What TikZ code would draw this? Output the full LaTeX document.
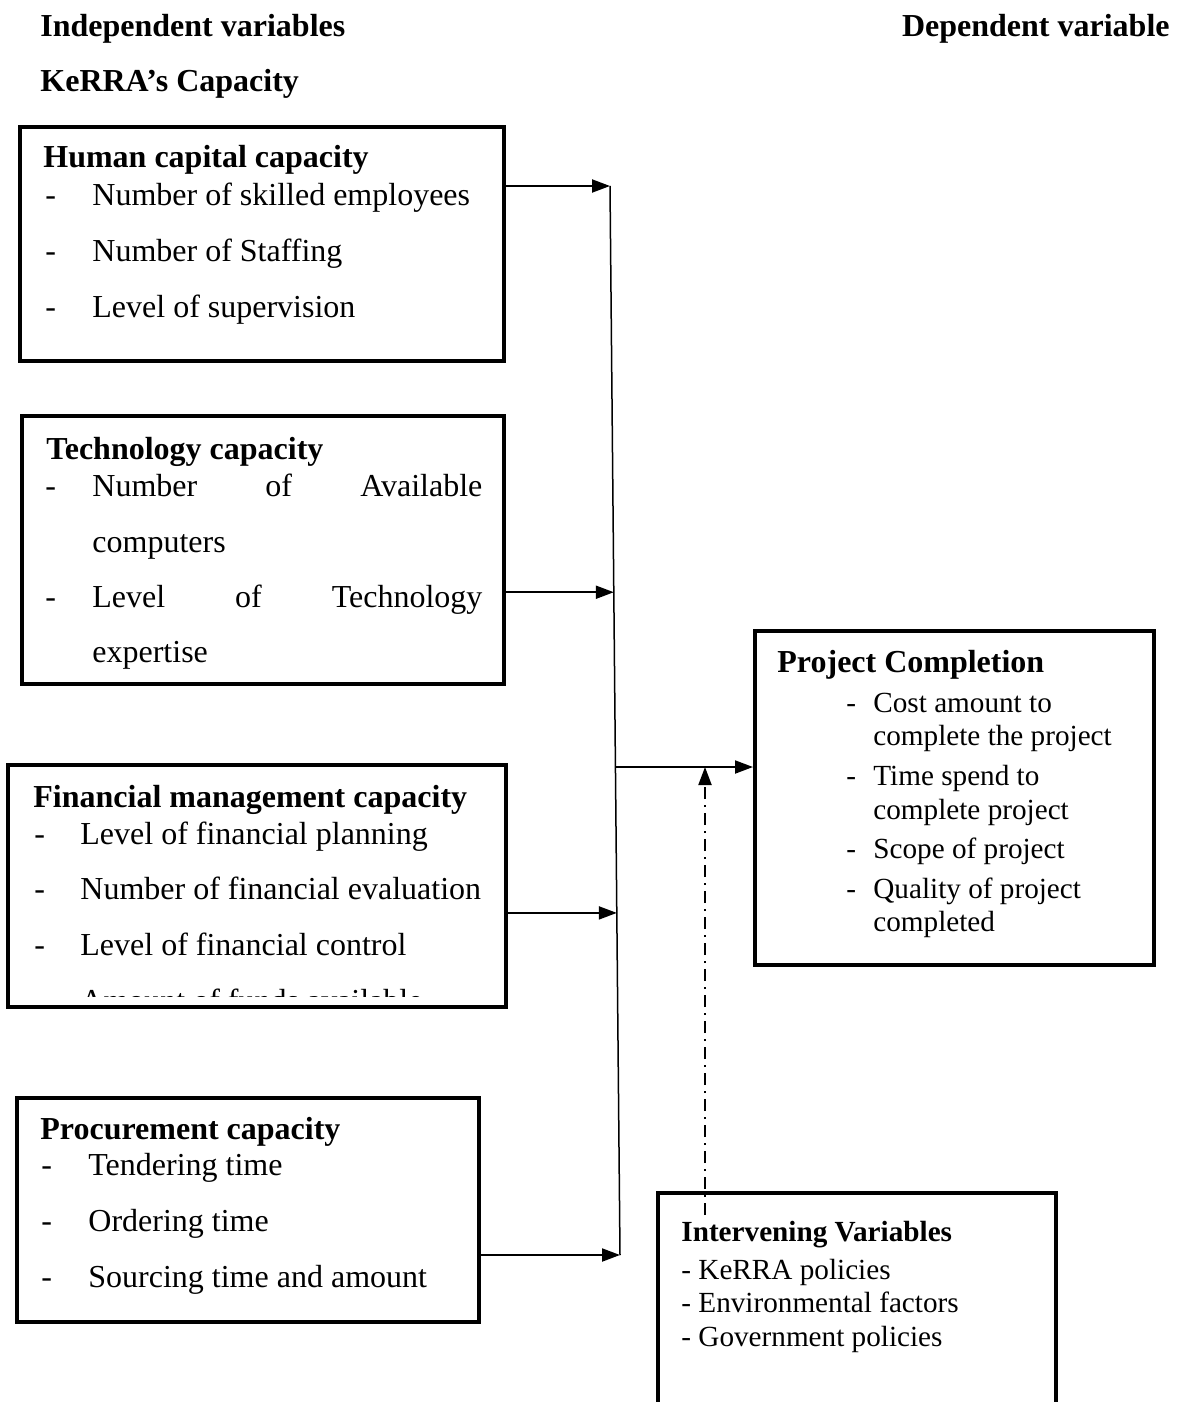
\documentclass[tikz,border=0pt]{standalone}
\usepackage{fontspec}
\setmainfont{Liberation Serif}
\usepackage{tikz}
\usetikzlibrary{calc}
\usetikzlibrary{arrows.meta}

\newcommand{\bigsize}{\fontsize{16}{19}\selectfont}
\newcommand{\smallsize}{\fontsize{14.6}{17}\selectfont}

\begin{document}
\begin{tikzpicture}[
        x = 0.5pt, y = -0.5pt,
        >={Triangle[length=9pt,width=6.5pt]},
        capbox/.style = {draw, line width=2pt, inner sep=0pt},
        txt/.style = {anchor=base west, inner sep=0pt, font=\bigsize},
        head/.style = {txt, font=\bigsize\bfseries},
        stxt/.style = {txt, font=\smallsize},
        shead/.style = {txt, font=\smallsize\bfseries},
        arr/.style = {->, line width=1pt},
        dashdot/.style = {->, line width=1pt, dash pattern=on 6pt off 3pt on 1pt off 3pt},
		]

        \useasboundingbox (0,0) rectangle (1177,1402);

        % Titles
        \node[head] (indep) at (40,37) {Independent variables};
        \node[head, anchor=base east] (dep) at (1170,37) {Dependent variable};
        \node[head] (kerra) at (40,92) {KeRRA’s Capacity};

        % Human capital capacity
        \node[capbox, minimum width=242pt, minimum height=117pt] (hum) at (262,244) {};
        \node[head] (humT) at (43,167) {Human capital capacity};
        \node[txt] (hum1d) at (45,205) {-};
        \node[txt] (hum1) at (92,205) {Number of skilled employees};
        \node[txt] (hum2d) at (45,261) {-};
        \node[txt] (hum2) at (92,261) {Number of Staffing};
        \node[txt] (hum3d) at (45,317) {-};
        \node[txt] (hum3) at (92,317) {Level of supervision};

        % Technology capacity
        \node[capbox, minimum width=241pt, minimum height=134pt] (tech) at (263,550) {};
        \node[head] (techT) at (46,459) {Technology capacity};
        \node[txt] (tech1d) at (45,496) {-};
        \node[txt] (tech1) at (92,496) {\makebox[195pt][s]{Number of Available}};
        \node[txt] (tech1b) at (92,552) {computers};
        \node[txt] (tech2d) at (45,607) {-};
        \node[txt] (tech2) at (92,607) {\makebox[195pt][s]{Level of Technology}};
        \node[txt] (tech2b) at (92,662) {expertise};

        % Financial management capacity
        \node[capbox, minimum width=249pt, minimum height=121pt] (fin) at (257,886) {};
        \node[head] (finT) at (33,807) {Financial management capacity};
        \node[txt] (fin1d) at (34,844) {-};
        \node[txt] (fin1) at (80,844) {Level of financial planning};
        \node[txt] (fin2d) at (34,899) {-};
        \node[txt] (fin2) at (80,899) {Number of financial evaluation};
        \node[txt] (fin3d) at (34,955) {-};
        \node[txt] (fin3) at (80,955) {Level of financial control};
        \begin{scope}
            \clip (10,985) rectangle (500,996);
            \node[txt] (fin4d) at (34,1011) {-};
            \node[txt] (fin4) at (80,1011) {Amount of funds available};
        \end{scope}

        % Procurement capacity
        \node[capbox, minimum width=231pt, minimum height=112pt] (proc) at (248,1210) {};
        \node[head] (procT) at (40,1139) {Procurement capacity};
        \node[txt] (proc1d) at (41,1175) {-};
        \node[txt] (proc1) at (88,1175) {Tendering time};
        \node[txt] (proc2d) at (41,1231) {-};
        \node[txt] (proc2) at (88,1231) {Ordering time};
        \node[txt] (proc3d) at (41,1287) {-};
        \node[txt] (proc3) at (88,1287) {Sourcing time and amount};

        % Project completion
        \node[capbox, minimum width=199.5pt, minimum height=167pt] (proj) at (954.5,798) {};
        \node[head] (projT) at (777,672) {Project Completion};
        \node[stxt] (proj1d) at (846,712) {-};
        \node[stxt] (proj1) at (873,712) {Cost amount to};
        \node[stxt] (proj1b) at (873,745) {complete the project};
        \node[stxt] (proj2d) at (846,785) {-};
        \node[stxt] (proj2) at (873,785) {Time spend to};
        \node[stxt] (proj2b) at (873,819) {complete project};
        \node[stxt] (proj3d) at (846,858) {-};
        \node[stxt] (proj3) at (873,858) {Scope of project};
        \node[stxt] (proj4d) at (846,898) {-};
        \node[stxt] (proj4) at (873,898) {Quality of project};
        \node[stxt] (proj4b) at (873,931) {completed};

        % Intervening variables (runs off the page)
        \node[capbox, minimum width=199pt, minimum height=133.5pt] (inter) at (857,1326.5) {};
        \node[shead] (interT) at (681,1241) {Intervening Variables};
        \node[stxt] (inter1) at (681,1279) {- KeRRA policies};
        \node[stxt] (inter2) at (681,1312) {- Environmental factors};
        \node[stxt] (inter3) at (681,1346) {- Government policies};

        % Collecting line
        \coordinate (b1) at (610,186);
        \coordinate (b4) at (620,1255);
        \coordinate (b2) at ($(b1)!0.38!(b4)$);
        \coordinate (bm) at ($(b1)!0.5435!(b4)$);
        \coordinate (b3) at ($(b1)!0.68!(b4)$);
        \draw[line width=0.75pt] (b1) -- (b4);

        \draw[arr] (hum.east |- b1) -- (b1);
        \draw[arr] (tech.east |- b2) -- (b2);
        \draw[arr] (fin.east |- b3) -- (b3);
        \draw[arr] (proc.east |- b4) -- (b4);
        \draw[arr] (bm) -- (proj.west |- bm);

        % Intervening link
        \coordinate (dd) at (705,1215);
        \draw[dashdot] (dd) -- (dd |- bm);
    \end{tikzpicture}
\end{document}
